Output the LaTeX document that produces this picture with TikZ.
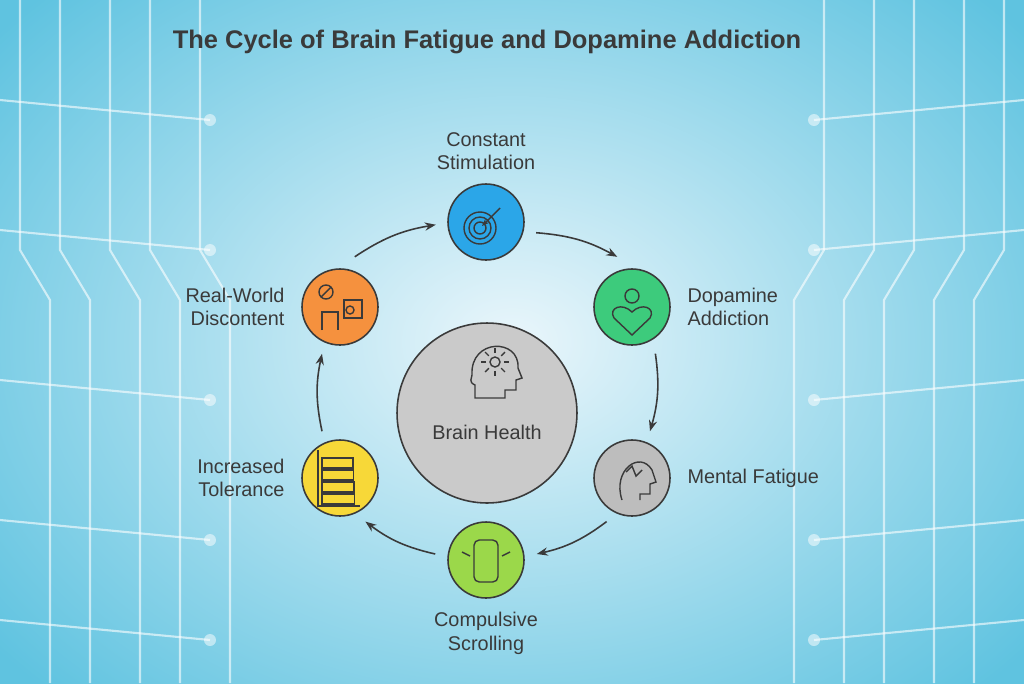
\documentclass[tikz,border=0pt]{standalone}
\usepackage{fontspec}
\setmainfont{Liberation Sans}
\usetikzlibrary{positioning,arrows.meta,calc}
\definecolor{bgmid}{HTML}{EAF6FB}
\definecolor{bgedge}{HTML}{5FC3E0}
\definecolor{txt}{HTML}{3A3A3A}
\definecolor{cblue}{HTML}{2BA6E8}
\definecolor{cgreen}{HTML}{3DCB7C}
\definecolor{cgray}{HTML}{BDBDBD}
\definecolor{cscroll}{HTML}{9BD84A}
\definecolor{cyellow}{HTML}{F7D838}
\definecolor{corange}{HTML}{F5913E}
\tikzset{
  step node/.style={circle,draw=txt,line width=0.9pt,minimum size=1.52cm,fill=#1},
  lbl/.style={text=txt,font=\fontsize{11.3}{13.5}\selectfont,align=#1},
  cyc/.style={draw=txt,line width=0.9pt,-{Stealth[length=2.2mm]}},
  ico/.style={draw=txt,line width=0.8pt},
  wire/.style={draw=white,opacity=0.6,line width=1.2pt}
}
\begin{document}
\begin{tikzpicture}[x=0.02cm,y=-0.02cm]
	\useasboundingbox (0,0) rectangle (1024,683);
	% background
	\shade[inner color=bgmid,outer color=bgedge] (-150,-150) rectangle (1174,833);
	\foreach \x in {20,60,110,150,200} {
		\draw[wire] (\x,0) -- (\x,250) -- (\x+30,300) -- (\x+30,683);
		\draw[wire] (1024-\x,0) -- (1024-\x,250) -- (994-\x,300) -- (994-\x,683);
	}
	\foreach \y in {100,230,380,520,620} {
		\draw[wire] (0,\y) -- (210,\y+20);
		\draw[wire] (1024,\y) -- (814,\y+20);
		\fill[white,opacity=0.5] (210,\y+20) circle (6);
		\fill[white,opacity=0.5] (814,\y+20) circle (6);
	}
	% title
	\node[text=txt,font=\bfseries\fontsize{14.5}{17}\selectfont] (title) at (487,42) {The Cycle of Brain Fatigue and Dopamine Addiction};
	% centre
	\node[circle,draw=txt,line width=0.9pt,fill=cgray!80,minimum size=3.6cm] (brain) at (487,413) {};
	\node[lbl=center] (brainlbl) at (487,432) {Brain Health};
	\draw[ico] (472,375) .. controls (470,338) and (520,338) .. (518,368) -- (522,378) -- (516,380) -- (516,390) -- (505,390) -- (505,398) -- (475,398) -- (475,385) .. controls (468,382) and (472,378) .. (472,375);
	\draw[ico] (495,362) circle (5);
	\foreach \a in {0,45,...,315} \draw[ico] (495,362) ++(\a:5pt) -- ++(\a:3pt);
	% steps
	\node[step node=cblue] (stim) at (486,222) {};
	\node[step node=cgreen] (dopa) at (632,307) {};
	\node[step node=cgray] (fatig) at (632,478) {};
	\node[step node=cscroll] (scroll) at (486,560) {};
	\node[step node=cyellow] (toler) at (340,478) {};
	\node[step node=corange] (disc) at (340,307) {};
	% icons
	\foreach \r in {6,11,16} \draw[ico] (480,228) circle (\r);
	\draw[ico,-{Stealth[length=1.5mm]}] (500,208) -- (482,226);
	\draw[ico] (632,296) circle (7);
	\draw[ico] (632,335) -- (614,318) .. controls (608,308) and (622,302) .. (632,312) .. controls (642,302) and (656,308) .. (650,318) -- cycle;
	\draw[ico] (622,500) .. controls (612,470) and (640,450) .. (652,470) -- (656,482) -- (650,484) -- (650,494) -- (640,494) -- (640,500);
	\draw[ico] (626,472) -- (632,466) -- (636,476) -- (642,470);
	\draw[ico,rounded corners=3pt] (474,540) rectangle (498,582);
	\draw[ico] (462,552) -- (470,556); \draw[ico] (510,552) -- (502,556);
	\foreach \y in {458,470,482,494} \draw[ico] (322,\y) rectangle (350+\y/20-20,\y+10);
	\draw[ico] (318,450) -- (318,506) -- (360,506);
	\draw[ico] (326,292) circle (7); \draw[ico] (321,297) -- (331,287);
	\draw[ico] (322,330) -- (322,312) -- (338,312) -- (338,330);
	\draw[ico] (344,300) rectangle (362,318);
	\draw[ico] (350,310) circle (4);
	% labels
	\node[lbl=center,above=4pt of stim] (stimlbl) {Constant\\Stimulation};
	\node[lbl=left,right=6pt of dopa] (dopalbl) {Dopamine\\Addiction};
	\node[lbl=left,right=6pt of fatig] (fatiglbl) {Mental Fatigue};
	\node[lbl=center,below=4pt of scroll] (scrolllbl) {Compulsive\\Scrolling};
	\node[lbl=right,left=6pt of toler] (tolerlbl) {Increased\\Tolerance};
	\node[lbl=right,left=6pt of disc] (disclbl) {Real-World\\Discontent};
	% cycle arrows
	\draw[cyc] ($(stim.-10)+(12,4)$) to[bend left=12] ($(dopa.100)+(-8,-12)$);
	\draw[cyc] ($(dopa.-85)+(20,8)$) to[bend left=12] ($(fatig.90)+(18,-8)$);
	\draw[cyc] ($(fatig.-120)+(-6,10)$) to[bend left=12] ($(scroll.0)+(12,-6)$);
	\draw[cyc] ($(scroll.180)+(-12,-6)$) to[bend left=12] ($(toler.-60)+(6,10)$);
	\draw[cyc] ($(toler.90)+(-18,-8)$) to[bend left=12] ($(disc.-90)+(-18,8)$);
	\draw[cyc] ($(disc.80)+(8,-12)$) to[bend left=12] ($(stim.190)+(-12,-4)$);
\end{tikzpicture}
\end{document}
